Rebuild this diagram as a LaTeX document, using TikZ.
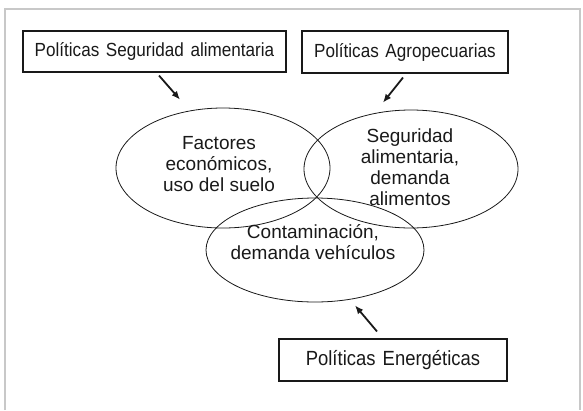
\documentclass[tikz,border=0pt]{standalone}
\usepackage{fontspec}
\setmainfont{Liberation Sans}
\newfontfamily\narrowsans[FakeStretch=0.9, WordSpace=1.4]{Liberation Sans}
\usepackage{tikz}
\usetikzlibrary{calc, arrows.meta, shapes.geometric}
\definecolor{ink}{RGB}{25, 25, 25}
\definecolor{frame}{RGB}{200, 200, 200}

\begin{document}
\begin{tikzpicture}[x=1pt, y=-1pt,
    polbox/.style={draw=ink, line width=1.1pt, inner sep=0pt, font=\narrowsans\fontsize{19}{22}\selectfont, text=ink},
    venn/.style={draw=ink, ellipse, line width=0.8pt, inner sep=0pt},
    venntxt/.style={align=center, font=\fontsize{19}{21}\selectfont, text=ink},
    arr/.style={-{Latex[length=8.5pt, width=7pt]}, ink, line width=1.8pt}]
        \useasboundingbox (0,0) rectangle (583,410);
        \draw[frame, line width=2pt] (5,410) -- (5,9) -- (580,9) -- (580,410);
        % policy boxes
        \node[polbox, minimum width=263pt, minimum height=41pt] (pseg) at (154.5,51.5) {Políticas Seguridad alimentaria};
        \node[polbox, minimum width=206pt, minimum height=42pt] (pagr) at (405,52) {Políticas Agropecuarias};
        \node[polbox, minimum width=228pt, minimum height=42pt, font=\narrowsans\fontsize{20.5}{24}\selectfont] (pene) at (393,360) {Políticas Energéticas};
        % three sets
        \node[venn, minimum width=214pt, minimum height=120pt] (econ) at (223,168) {};
        \node[venn, minimum width=214pt, minimum height=118pt] (alim) at (411,169) {};
        \node[venn, minimum width=218pt, minimum height=104pt] (veh) at (315,250) {};
        \node[venntxt] (econtxt) at (219,164) {Factores\\económicos,\\uso del suelo};
        \node[venntxt] (alimtxt) at (410,167) {Seguridad\\alimentaria,\\demanda\\alimentos};
        \node[venntxt] (vehtxt) at (313,242) {Contaminación,\\demanda vehículos};
        \draw[arr] ($(pseg.south)+(4.5,3)$) -- ($(econ.north)+(-43,-8)$);
        \draw[arr] ($(pagr.south)+(-2,4)$) -- ($(alim.north)+(-28,-7)$);
        \draw[arr] ($(pene.north)+(-16,-7)$) -- ($(veh.south)+(40,3)$);
      \end{tikzpicture}
\end{document}
